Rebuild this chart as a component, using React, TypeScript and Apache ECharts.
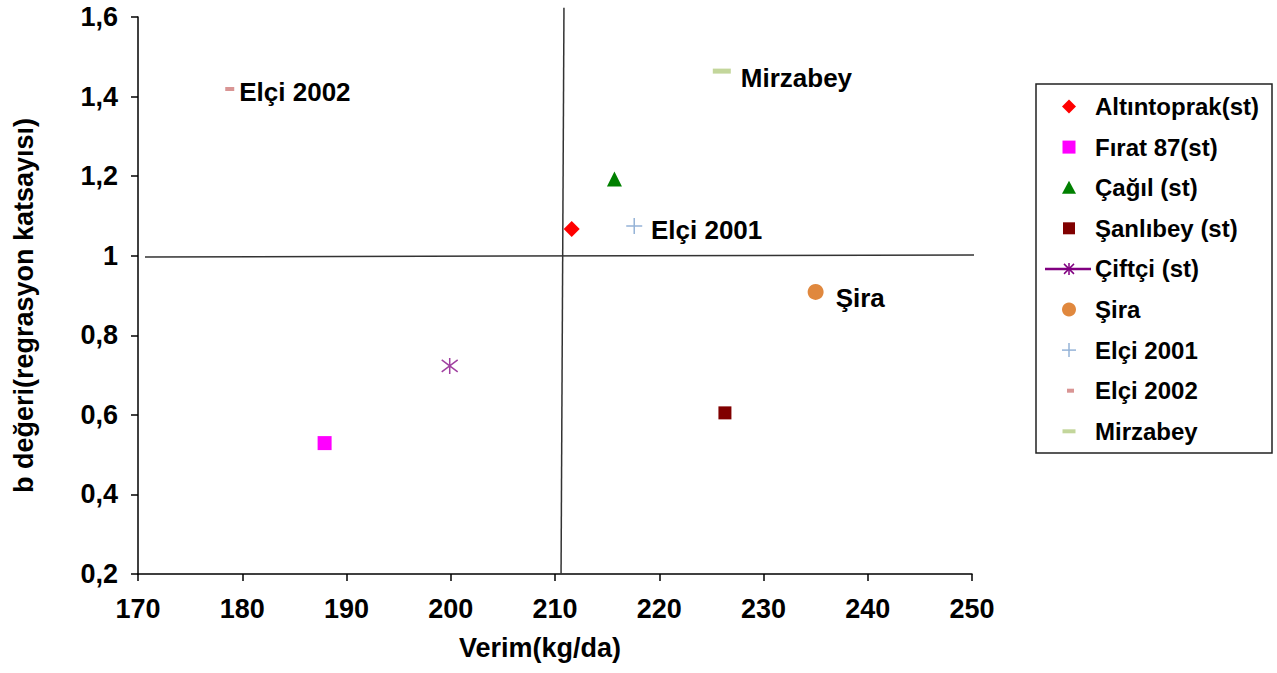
import React, { useEffect, useRef } from "react";
import * as echarts from "echarts";

// ---- data ----
const seriesNames = [
  "Altıntoprak(st)",
  "Fırat 87(st)",
  "Çağıl (st)",
  "Şanlıbey (st)",
  "Çiftçi (st)",
  "Şira",
  "Elçi 2001",
  "Elçi 2002",
  "Mirzabey",
];
const verim = [211.6, 187.9, 215.7, 226.3, 199.9, 235.0, 217.6, 178.8, 226.0];
const bDegeri = [1.067, 0.529, 1.193, 0.605, 0.723, 0.909, 1.075, 1.419, 1.464];
const pointLabels = ["", "", "", "", "", "Şira", "Elçi 2001", "Elçi 2002", "Mirzabey"];

const xTicks = { min: 170, max: 250, interval: 10 };
const yTicks = { min: 0.2, max: 1.6, interval: 0.2 };
const xTitle = "Verim(kg/da)";
const yTitle = "b değeri(regrasyon katsayısı)";

// quadrant reference lines (drawn through the axes' scales)
const verticalRef = [
  [210.86, 1.623],
  [210.58, 0.2],
];
const horizontalRef = [
  [170.67, 0.997],
  [250.58, 1.002],
];

// ---- styles ----
const FONT = "'Liberation Sans', Arial, sans-serif";
const colors = ["#ff0000", "#ff00ff", "#008000", "#800000", "#a040a0", "#e0883e", "#95b3d7", "#d99594", "#c3d69b"];
const PLUS = "path://M0,8H16M8,0V16";
const STAR = "path://M8,0V16M2,2L14,14M14,2L2,14";
const symbols = ["diamond", "rect", "triangle", "rect", STAR, "circle", PLUS, "rect", "rect"];
const symbolSizes: any[] = [16, 14, 15, 13, 16, 16, 16, [9, 4], [18, 5]];
const labelDist = [5, 5, 5, 5, 5, 12, 8, 5, 10];
const labelDy = [0, 0, 0, 0, 0, 6, 4, 3, 7];

function fmtY(v: number) {
  const r = Math.round(v * 10) / 10;
  return String(r).replace(".", ",");
}

function legendGraphics() {
  const boxX = 1036, boxY = 84, boxW = 236, boxH = 369;
  const cx = 1069, textX = 1095, y0 = 106.5, gap = 40.6;
  const els: any[] = [
    { type: "rect", shape: { x: boxX, y: boxY, width: boxW, height: boxH }, style: { fill: "#fff", stroke: "#222", lineWidth: 1.5 } },
  ];
  seriesNames.forEach((name, i) => {
    const cy = y0 + i * gap;
    const c = colors[i];
    let icon: any[] = [];
    switch (i) {
      case 0:
        icon = [{ type: "polygon", shape: { points: [[cx, cy - 7], [cx + 7, cy], [cx, cy + 7], [cx - 7, cy]] }, style: { fill: c } }];
        break;
      case 1:
        icon = [{ type: "rect", shape: { x: cx - 6.5, y: cy - 6.5, width: 13, height: 13 }, style: { fill: c } }];
        break;
      case 2:
        icon = [{ type: "polygon", shape: { points: [[cx, cy - 7], [cx + 7, cy + 6], [cx - 7, cy + 6]] }, style: { fill: c } }];
        break;
      case 3:
        icon = [{ type: "rect", shape: { x: cx - 6, y: cy - 6, width: 12, height: 12 }, style: { fill: c } }];
        break;
      case 4:
        icon = [
          { type: "line", shape: { x1: 1045, y1: cy, x2: 1091, y2: cy }, style: { stroke: "#800080", lineWidth: 2.5 } },
          { type: "line", shape: { x1: cx, y1: cy - 6, x2: cx, y2: cy + 6 }, style: { stroke: "#800080", lineWidth: 1.5 } },
          { type: "line", shape: { x1: cx - 5, y1: cy - 5, x2: cx + 5, y2: cy + 5 }, style: { stroke: "#800080", lineWidth: 1.5 } },
          { type: "line", shape: { x1: cx + 5, y1: cy - 5, x2: cx - 5, y2: cy + 5 }, style: { stroke: "#800080", lineWidth: 1.5 } },
        ];
        break;
      case 5:
        icon = [{ type: "circle", shape: { cx, cy, r: 7 }, style: { fill: c } }];
        break;
      case 6:
        icon = [
          { type: "line", shape: { x1: cx - 7, y1: cy, x2: cx + 7, y2: cy }, style: { stroke: c, lineWidth: 1.5 } },
          { type: "line", shape: { x1: cx, y1: cy - 7, x2: cx, y2: cy + 7 }, style: { stroke: c, lineWidth: 1.5 } },
        ];
        break;
      case 7:
        icon = [{ type: "rect", shape: { x: cx - 2, y: cy - 2, width: 7, height: 4 }, style: { fill: c } }];
        break;
      case 8:
        icon = [{ type: "rect", shape: { x: cx - 6.5, y: cy - 2, width: 13, height: 4 }, style: { fill: c } }];
        break;
    }
    els.push(...icon);
    els.push({
      type: "text",
      x: textX,
      y: cy,
      style: { text: name, fill: "#000", font: `bold 24px ${FONT}`, textVerticalAlign: "middle", textAlign: "left" },
    });
  });
  return els;
}

export default function App() {
  const ref = useRef<HTMLDivElement>(null);
  useEffect(() => {
    if (!ref.current) return;
    const chart = echarts.init(ref.current, null, { renderer: "svg" });
    const pointSeries = seriesNames.map((name, i) => ({
      type: "scatter",
      name,
      data: [[verim[i], bDegeri[i]]],
      symbol: symbols[i],
      symbolSize: symbolSizes[i],
      itemStyle:
        i === 4 || i === 6
          ? { color: "transparent", borderColor: colors[i], borderWidth: 1.5, opacity: 1 }
          : { color: colors[i], opacity: 1 },
      label: {
        show: pointLabels[i] !== "",
        formatter: pointLabels[i],
        position: "right",
        distance: labelDist[i],
        offset: [0, labelDy[i]],
        color: "#000",
        opacity: 1,
        fontSize: 26,
        fontWeight: "bold",
        fontFamily: FONT,
      },
      z: 3,
    }));
    const refSeries = [verticalRef, horizontalRef].map((d, k) => ({
      type: "line",
      name: k === 0 ? "ref-v" : "ref-h",
      data: d,
      symbol: "none",
      clip: false,
      silent: true,
      lineStyle: { color: "#333", width: 1.5 },
      z: 1,
    }));
    chart.setOption({
      animation: false,
      backgroundColor: "#fff",
      grid: { left: 138, right: 305, top: 17, bottom: 99, containLabel: false },
      xAxis: {
        type: "value",
        min: xTicks.min,
        max: xTicks.max,
        interval: xTicks.interval,
        name: xTitle,
        nameLocation: "middle",
        nameGap: 60,
        nameTextStyle: { color: "#000", fontSize: 27, fontWeight: "bold", fontFamily: FONT, padding: [0, 30, 0, 0] },
        axisLine: { lineStyle: { color: "#000", width: 1.5 } },
        axisTick: { show: true, length: 7, lineStyle: { color: "#000", width: 1.5 } },
        axisLabel: { color: "#000", fontSize: 27, fontWeight: "bold", fontFamily: FONT, margin: 21 },
        splitLine: { show: false },
      },
      yAxis: {
        type: "value",
        min: yTicks.min,
        max: yTicks.max,
        interval: yTicks.interval,
        name: yTitle,
        nameLocation: "middle",
        nameRotate: 90,
        nameGap: 101,
        nameTextStyle: { color: "#000", fontSize: 27, fontWeight: "bold", fontFamily: FONT, padding: [0, 20, 0, 0] },
        axisLine: { show: true, lineStyle: { color: "#000", width: 1.5 } },
        axisTick: { show: true, length: 7, lineStyle: { color: "#000", width: 1.5 } },
        axisLabel: { color: "#000", fontSize: 27, fontWeight: "bold", fontFamily: FONT, margin: 20, formatter: fmtY },
        splitLine: { show: false },
      },
      legend: { show: false },
      series: [...refSeries, ...pointSeries],
      graphic: legendGraphics(),
    });
    return () => chart.dispose();
  }, []);
  return <div ref={ref} style={{ position: "fixed", left: 0, top: 0, width: 1277, height: 673 }} />;
}
